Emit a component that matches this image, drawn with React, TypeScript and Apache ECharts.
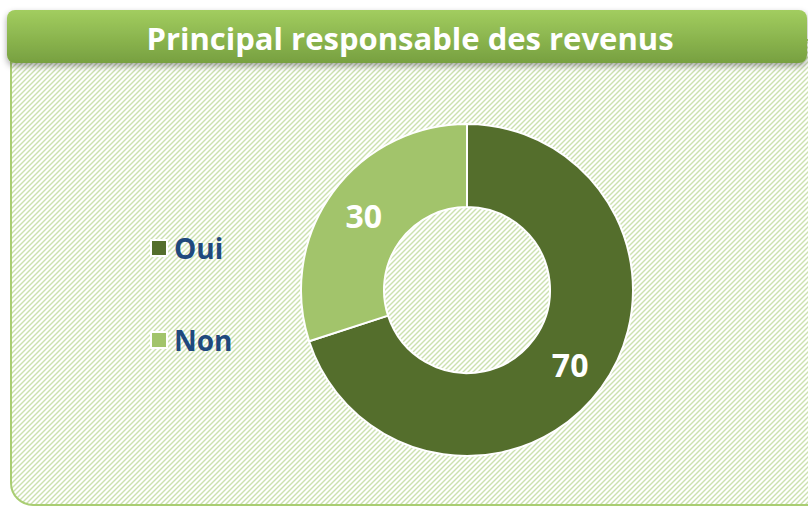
import React, { useEffect, useRef } from "react";
import * as echarts from "echarts";

const titleText = "Principal responsable des revenus";
const categories = ["Oui", "Non"];
const values = [70, 30];
const colors = ["#546e2c", "#a2c46b"];

function makeHatch(): string {
  const c = document.createElement("canvas");
  c.width = 5;
  c.height = 5;
  const ctx = c.getContext("2d")!;
  ctx.fillStyle = "#ffffff";
  ctx.fillRect(0, 0, 5, 5);
  ctx.strokeStyle = "#cce1b0";
  ctx.lineWidth = 1.4;
  ctx.beginPath();
  ctx.moveTo(-1, 6);
  ctx.lineTo(6, -1);
  ctx.stroke();
  ctx.beginPath();
  ctx.moveTo(-6, 6);
  ctx.lineTo(1, -1);
  ctx.stroke();
  ctx.beginPath();
  ctx.moveTo(4, 6);
  ctx.lineTo(11, -1);
  ctx.stroke();
  return c.toDataURL();
}

export default function App() {
  const ref = useRef<HTMLDivElement>(null);
  useEffect(() => {
    document.body.style.margin = "0";
    const chart = echarts.init(ref.current!, undefined, { renderer: "svg" });
    const hatch = makeHatch();
    chart.setOption({
      animation: false,
      backgroundColor: "#ffffff",
      graphic: [
        {
          type: "rect",
          z: -10,
          shape: { x: 11, y: 40, width: 820, height: 465, r: [0, 0, 0, 22] },
          style: { fill: { image: hatch, repeat: "repeat" } as any, stroke: "#a9cd72", lineWidth: 2 },
        },
        {
          type: "rect",
          z: -5,
          shape: { x: 7, y: 10, width: 800, height: 53, r: 8 },
          style: {
            fill: new echarts.graphic.LinearGradient(0, 0, 0, 1, [
              { offset: 0, color: "#a2cd5f" },
              { offset: 1, color: "#77a040" },
            ]),
            shadowBlur: 6,
            shadowOffsetY: 3,
            shadowColor: "rgba(0,0,0,0.35)",
          },
        },
        {
          type: "text",
          z: 10,
          x: 410,
          y: 38,
          style: {
            text: titleText,
            fill: "#ffffff",
            font: "bold 31px 'Open Sans'",
            textAlign: "center",
            textVerticalAlign: "middle",
          },
        },
      ],
      legend: {
        orient: "vertical",
        left: 145,
        top: 229,
        itemWidth: 16,
        itemHeight: 16,
        itemGap: 64,
        icon: "rect",
        data: categories,
        textStyle: { color: "#1f497d", fontSize: 28, fontWeight: "bold", fontFamily: "Open Sans", padding: [0, 0, 0, 2] },
      },
      series: [
        {
          type: "pie",
          center: [467, 290],
          radius: [83, 166],
          startAngle: 90,
          clockwise: true,
          itemStyle: { borderColor: "#ffffff", borderWidth: 2 },
          label: {
            show: true,
            position: "inside",
            formatter: "{c}",
            color: "#ffffff",
            fontSize: 32,
            fontWeight: "bold",
            fontFamily: "Open Sans",
          },
          labelLine: { show: false },
          emphasis: { disabled: true },
          data: categories.map((n, i) => ({ name: n, value: values[i], itemStyle: { color: colors[i] } })),
        },
      ],
    });
    return () => chart.dispose();
  }, []);
  return <div ref={ref} style={{ width: 808, height: 507 }} />;
}
